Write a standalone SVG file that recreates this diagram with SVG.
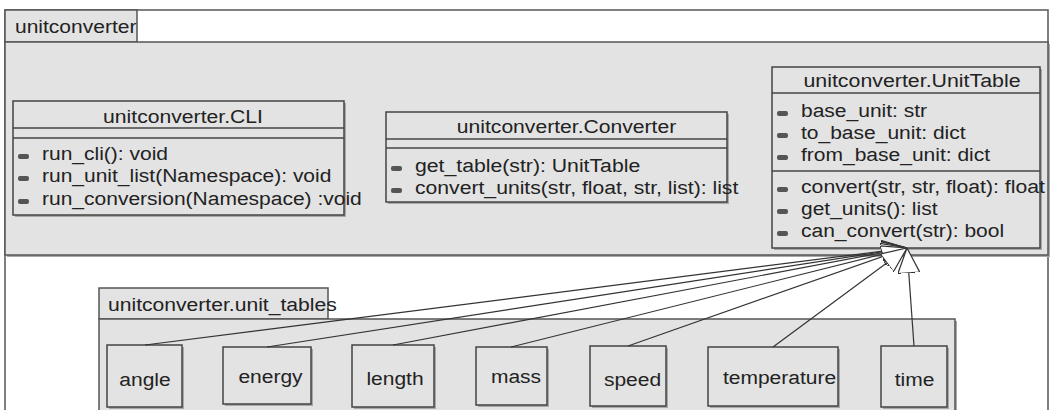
<svg xmlns="http://www.w3.org/2000/svg" width="1052" height="410" viewBox="0 0 1052 410">
<defs>
<style>
text{font-family:"Liberation Sans",Arial,sans-serif;font-size:18px;fill:#222}
.frame{fill:#fff;stroke:#555;stroke-width:1.5}
.pkg{fill:#e3e3e3;stroke:#555;stroke-width:1.5}
.box{fill:#e3e3e3;stroke:#444;stroke-width:1.5}
.shadow{fill:#a8a8a8}
.sep{stroke:#444;stroke-width:1.5}
.bul{fill:#555}
.mid{text-anchor:middle}
.conn{fill:none;stroke:#333;stroke-width:1.2;marker-end:url(#gen)}
</style>
<marker id="gen" viewBox="0 0 25 22" refX="25" refY="11" markerWidth="25" markerHeight="22" markerUnits="userSpaceOnUse" orient="auto">
<path d="M0,0 L25,11 L0,22 Z" fill="#fff" stroke="#333" stroke-width="1.2"/>
</marker>
</defs>
<rect x="0" y="0" width="1052" height="410" fill="#fff"/>
<rect class="frame" x="5" y="10" width="1043" height="420"/>

<g id="pkg-unitconverter">
<rect class="shadow" x="7" y="44" width="1043" height="213"/>
<rect class="pkg" x="5" y="10" width="132" height="32"/>
<rect class="pkg" x="5" y="42" width="1043" height="213"/>
<text x="15" y="33" textLength="121.4" lengthAdjust="spacingAndGlyphs">unitconverter</text>
</g>

<g id="cls-cli">
<rect class="shadow" x="15" y="103" width="331" height="114"/>
<rect class="box" x="13" y="101" width="331" height="114"/>
<line class="sep" x1="13" y1="128" x2="344" y2="128"/>
<line class="sep" x1="13" y1="138" x2="344" y2="138"/>
<text class="mid" x="183" y="123" textLength="159.9" lengthAdjust="spacingAndGlyphs">unitconverter.CLI</text>
<rect class="bul" x="18" y="154" width="11" height="5" rx="2"/>
<rect class="bul" x="18" y="176" width="11" height="5" rx="2"/>
<rect class="bul" x="18" y="199" width="11" height="5" rx="2"/>
<text x="42" y="160" textLength="126" lengthAdjust="spacingAndGlyphs">run_cli(): void</text>
<text x="42" y="182" textLength="289.4" lengthAdjust="spacingAndGlyphs">run_unit_list(Namespace): void</text>
<text x="42" y="205" textLength="319.8" lengthAdjust="spacingAndGlyphs">run_conversion(Namespace) :void</text>
</g>

<g id="cls-converter">
<rect class="shadow" x="388" y="114" width="341" height="90"/>
<rect class="box" x="386" y="112" width="341" height="90"/>
<line class="sep" x1="386" y1="139" x2="727" y2="139"/>
<line class="sep" x1="386" y1="148" x2="727" y2="148"/>
<text class="mid" x="566.5" y="133" textLength="219.4" lengthAdjust="spacingAndGlyphs">unitconverter.Converter</text>
<rect class="bul" x="391" y="166" width="11" height="5" rx="2"/>
<rect class="bul" x="391" y="188" width="11" height="5" rx="2"/>
<text x="415" y="172" textLength="225.2" lengthAdjust="spacingAndGlyphs">get_table(str): UnitTable</text>
<text x="415" y="194" textLength="323.3" lengthAdjust="spacingAndGlyphs">convert_units(str, float, str, list): list</text>
</g>

<g id="cls-unittable">
<rect class="shadow" x="774" y="69" width="268" height="181"/>
<rect class="box" x="772" y="67" width="268" height="181"/>
<line class="sep" x1="772" y1="93" x2="1040" y2="93"/>
<line class="sep" x1="772" y1="171" x2="1040" y2="171"/>
<text class="mid" x="912" y="87" textLength="217.1" lengthAdjust="spacingAndGlyphs">unitconverter.UnitTable</text>
<rect class="bul" x="777" y="111" width="11" height="5" rx="2"/>
<rect class="bul" x="777" y="133" width="11" height="5" rx="2"/>
<rect class="bul" x="777" y="155" width="11" height="5" rx="2"/>
<rect class="bul" x="777" y="187" width="11" height="5" rx="2"/>
<rect class="bul" x="777" y="209" width="11" height="5" rx="2"/>
<rect class="bul" x="777" y="231" width="11" height="5" rx="2"/>
<text x="801" y="117" textLength="126.1" lengthAdjust="spacingAndGlyphs">base_unit: str</text>
<text x="801" y="139" textLength="164.6" lengthAdjust="spacingAndGlyphs">to_base_unit: dict</text>
<text x="801" y="161" textLength="189.1" lengthAdjust="spacingAndGlyphs">from_base_unit: dict</text>
<text x="801" y="193" textLength="243.9" lengthAdjust="spacingAndGlyphs">convert(str, str, float): float</text>
<text x="801" y="215" textLength="136.5" lengthAdjust="spacingAndGlyphs">get_units(): list</text>
<text x="801" y="237" textLength="203.1" lengthAdjust="spacingAndGlyphs">can_convert(str): bool</text>
</g>

<g id="pkg-unit-tables">
<rect class="shadow" x="101" y="321" width="856" height="100"/>
<rect class="pkg" x="99" y="288" width="229" height="31"/>
<rect class="pkg" x="99" y="319" width="856" height="100"/>
<text x="108" y="311" textLength="228.8" lengthAdjust="spacingAndGlyphs">unitconverter.unit_tables</text>
</g>

<g id="unit-angle">
<rect class="shadow" x="109" y="347" width="75" height="62"/>
<rect class="box" x="107" y="345" width="75" height="62"/>
<text class="mid" x="145" y="386" textLength="51.4" lengthAdjust="spacingAndGlyphs">angle</text>
</g>
<g id="unit-energy">
<rect class="shadow" x="225" y="349" width="88" height="57"/>
<rect class="box" x="223" y="347" width="88" height="57"/>
<text class="mid" x="270.5" y="382.5" textLength="64.2" lengthAdjust="spacingAndGlyphs">energy</text>
</g>
<g id="unit-length">
<rect class="shadow" x="354" y="347" width="82" height="62"/>
<rect class="box" x="352" y="345" width="82" height="62"/>
<text class="mid" x="395" y="385" textLength="57.2" lengthAdjust="spacingAndGlyphs">length</text>
</g>
<g id="unit-mass">
<rect class="shadow" x="478" y="349" width="71" height="58"/>
<rect class="box" x="476" y="347" width="71" height="58"/>
<text class="mid" x="516" y="383" textLength="50.2" lengthAdjust="spacingAndGlyphs">mass</text>
</g>
<g id="unit-speed">
<rect class="shadow" x="592" y="348" width="76" height="60"/>
<rect class="box" x="590" y="346" width="76" height="60"/>
<text class="mid" x="632.5" y="385.5" textLength="57.2" lengthAdjust="spacingAndGlyphs">speed</text>
</g>
<g id="unit-temperature">
<rect class="shadow" x="710" y="349" width="130" height="59"/>
<rect class="box" x="708" y="347" width="130" height="59"/>
<text class="mid" x="779.5" y="384" textLength="113.2" lengthAdjust="spacingAndGlyphs">temperature</text>
</g>
<g id="unit-time">
<rect class="shadow" x="883" y="348" width="66" height="61"/>
<rect class="box" x="881" y="346" width="66" height="61"/>
<text class="mid" x="914.5" y="386" textLength="39.7" lengthAdjust="spacingAndGlyphs">time</text>
</g>

<g id="connectors">
<line class="conn" x1="145" y1="345" x2="907" y2="248"/>
<line class="conn" x1="267" y1="347" x2="907" y2="248"/>
<line class="conn" x1="393" y1="345" x2="907" y2="248"/>
<line class="conn" x1="511" y1="347" x2="907" y2="248"/>
<line class="conn" x1="628" y1="346" x2="907" y2="248"/>
<line class="conn" x1="773" y1="347" x2="907" y2="248"/>
<line class="conn" x1="914" y1="346" x2="907" y2="248"/>
</g>
</svg>
